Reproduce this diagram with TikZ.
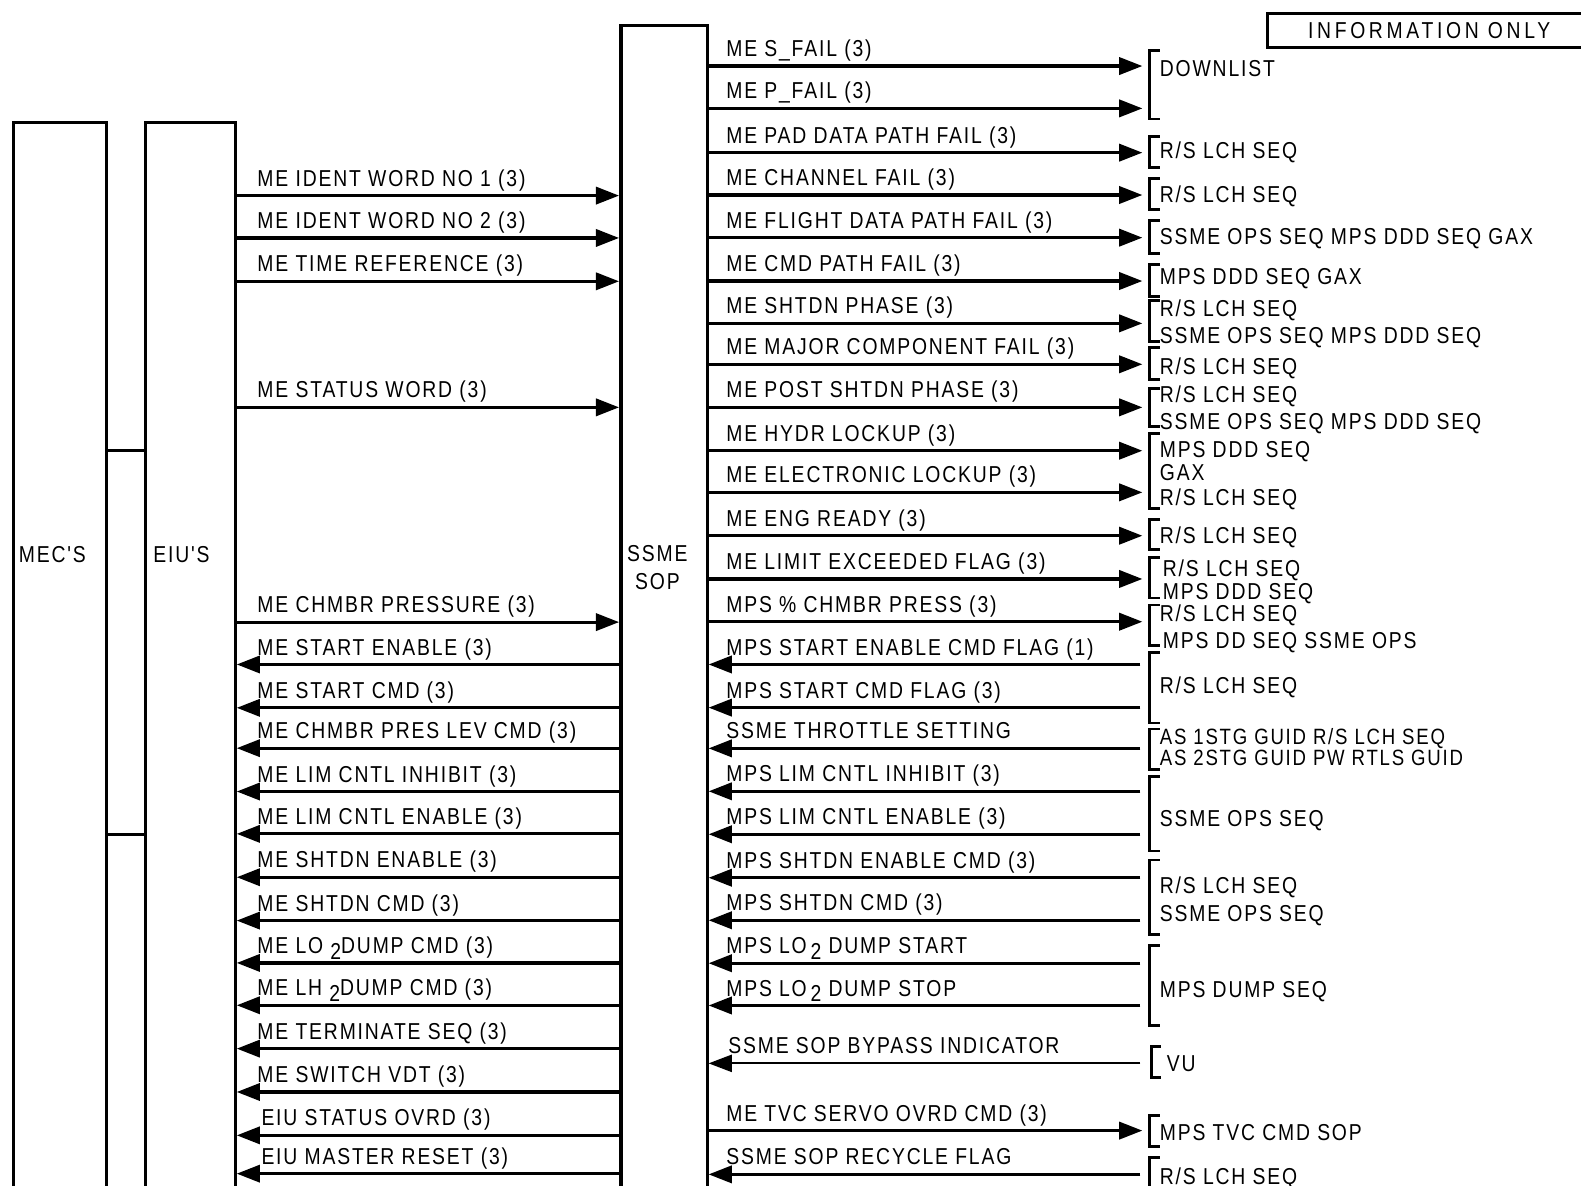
\documentclass[tikz,border=0pt]{standalone}
\usepackage{fontspec}
\newfontfamily\diafont{Liberation Sans}[FakeStretch=0.84, LetterSpace=8]
\usetikzlibrary{arrows.meta}

\begin{document}
\begin{tikzpicture}[x=0.02cm, y=-0.02cm,
    font=\diafont\fontsize{13}{15.5}\selectfont,
    box/.style={draw, line width=1.6pt, anchor=north west, inner sep=0pt},
    sig/.style={line width=1.8pt, -{Triangle[length=0.46cm, width=0.34cm]}},
    lbl/.style={anchor=south west, inner xsep=0pt, inner ysep=0pt, text depth=0.18cm},
    dst/.style={anchor=west, inner sep=0pt, text depth=0pt},
    brk/.style={line width=1.6pt}]
    \path[use as bounding box] (0,0) rectangle (1568,1176);
    \clip (0,0) rectangle (1568,1176);

    % Units
    \node[box, minimum width=1.84cm, minimum height=22cm] (mec) at (12,120) {};
    \node[box, minimum width=1.78cm, minimum height=22cm] (eiu) at (143,120) {};
    \node[box, minimum width=1.72cm, minimum height=23.9cm] (sop) at (614,24) {};
    \draw[line width=0.6pt] ([xshift=0.07cm]sop.north west) -- ([xshift=0.07cm]sop.south west);
    \node (meclbl) at (52,550) {MEC'S};
    \node (eiulbl) at (180,550) {EIU'S};
    \node[align=center] (soplbl) at (652,563) {SSME\\SOP};

    % Info box
    \node[box, minimum width=6.4cm, minimum height=0.68cm] (info) at (1256,12)
        {\addfontfeature{LetterSpace=16}INFORMATION ONLY};

    % MEC to EIU links
    \coordinate (bus1) at (0,447);
    \coordinate (bus2) at (0,828);
    \draw[brk] (mec.east |- bus1) -- (eiu.west |- bus1);
    \draw[brk] (mec.east |- bus2) -- (eiu.west |- bus2);

    % EIU to SOP
    \node[lbl] (l1) at (255,194) {ME IDENT WORD NO 1 (3)};
    \node[lbl] (l2) at (255,236) {ME IDENT WORD NO 2 (3)};
    \node[lbl] (l3) at (255,279) {ME TIME REFERENCE (3)};
    \node[lbl] (l4) at (255,404) {ME STATUS WORD (3)};
    \node[lbl] (l5) at (255,617) {ME CHMBR PRESSURE (3)};
    \draw[sig] (eiu.east |- l1.south) -- (sop.west |- l1.south);
    \draw[sig] (eiu.east |- l2.south) -- (sop.west |- l2.south);
    \draw[sig] (eiu.east |- l3.south) -- (sop.west |- l3.south);
    \draw[sig] (eiu.east |- l4.south) -- (sop.west |- l4.south);
    \draw[sig] (eiu.east |- l5.south) -- (sop.west |- l5.south);

    % SOP to EIU
    \node[lbl] (l6) at (255,659) {ME START ENABLE (3)};
    \node[lbl] (l7) at (255,702) {ME START CMD (3)};
    \node[lbl] (l8) at (255,742) {ME CHMBR PRES LEV CMD (3)};
    \node[lbl] (l9) at (255,785) {ME LIM CNTL INHIBIT (3)};
    \node[lbl] (l10) at (255,827) {ME LIM CNTL ENABLE (3)};
    \node[lbl] (l11) at (255,870) {ME SHTDN ENABLE (3)};
    \node[lbl] (l12) at (255,913) {ME SHTDN CMD (3)};
    \node[lbl] (l13) at (255,955) {ME LO \raisebox{-0.25em}{2}DUMP CMD (3)};
    \node[lbl] (l14) at (255,997) {ME LH \raisebox{-0.25em}{2}DUMP CMD (3)};
    \node[lbl] (l15) at (255,1040) {ME TERMINATE SEQ (3)};
    \node[lbl] (l16) at (255,1083) {ME SWITCH VDT (3)};
    \node[lbl] (l17) at (259,1126) {EIU STATUS OVRD (3)};
    \node[lbl] (l18) at (259,1164) {EIU MASTER RESET (3)};
    \draw[sig] (sop.west |- l6.south) -- (eiu.east |- l6.south);
    \draw[sig] (sop.west |- l7.south) -- (eiu.east |- l7.south);
    \draw[sig] (sop.west |- l8.south) -- (eiu.east |- l8.south);
    \draw[sig] (sop.west |- l9.south) -- (eiu.east |- l9.south);
    \draw[sig] (sop.west |- l10.south) -- (eiu.east |- l10.south);
    \draw[sig] (sop.west |- l11.south) -- (eiu.east |- l11.south);
    \draw[sig] (sop.west |- l12.south) -- (eiu.east |- l12.south);
    \draw[sig] (sop.west |- l13.south) -- (eiu.east |- l13.south);
    \draw[sig] (sop.west |- l14.south) -- (eiu.east |- l14.south);
    \draw[sig] (sop.west |- l15.south) -- (eiu.east |- l15.south);
    \draw[sig] (sop.west |- l16.south) -- (eiu.east |- l16.south);
    \draw[sig] (sop.west |- l17.south) -- (eiu.east |- l17.south);
    \draw[sig] (sop.west |- l18.south) -- (eiu.east |- l18.south);

    % SOP outputs
    \coordinate (rt) at (1133,0);
    \coordinate (rs) at (1131,0);
    \node[lbl] (r1) at (720,65.5) {ME S\_FAIL (3)};
    \node[lbl] (r2) at (720,107.5) {ME P\_FAIL (3)};
    \node[lbl] (r3) at (720,151.4) {ME PAD DATA PATH FAIL (3)};
    \node[lbl] (r4) at (720,193.4) {ME CHANNEL FAIL (3)};
    \node[lbl] (r5) at (720,235.7) {ME FLIGHT DATA PATH FAIL (3)};
    \node[lbl] (r6) at (720,278.7) {ME CMD PATH FAIL (3)};
    \node[lbl] (r7) at (720,320.7) {ME SHTDN PHASE (3)};
    \node[lbl] (r8) at (720,361.3) {ME MAJOR COMPONENT FAIL (3)};
    \node[lbl] (r9) at (720,404) {ME POST SHTDN PHASE (3)};
    \node[lbl] (r10) at (720,447) {ME HYDR LOCKUP (3)};
    \node[lbl] (r11) at (720,488.3) {ME ELECTRONIC LOCKUP (3)};
    \node[lbl] (r12) at (720,531.3) {ME ENG READY (3)};
    \node[lbl] (r13) at (720,574.2) {ME LIMIT EXCEEDED FLAG (3)};
    \node[lbl] (r14) at (720,616.6) {MPS \% CHMBR PRESS (3)};
    \node[lbl] (r25) at (720,1121.3) {ME TVC SERVO OVRD CMD (3)};
    \draw[sig] (sop.east |- r1.south) -- (rt |- r1.south);
    \draw[sig] (sop.east |- r2.south) -- (rt |- r2.south);
    \draw[sig] (sop.east |- r3.south) -- (rt |- r3.south);
    \draw[sig] (sop.east |- r4.south) -- (rt |- r4.south);
    \draw[sig] (sop.east |- r5.south) -- (rt |- r5.south);
    \draw[sig] (sop.east |- r6.south) -- (rt |- r6.south);
    \draw[sig] (sop.east |- r7.south) -- (rt |- r7.south);
    \draw[sig] (sop.east |- r8.south) -- (rt |- r8.south);
    \draw[sig] (sop.east |- r9.south) -- (rt |- r9.south);
    \draw[sig] (sop.east |- r10.south) -- (rt |- r10.south);
    \draw[sig] (sop.east |- r11.south) -- (rt |- r11.south);
    \draw[sig] (sop.east |- r12.south) -- (rt |- r12.south);
    \draw[sig] (sop.east |- r13.south) -- (rt |- r13.south);
    \draw[sig] (sop.east |- r14.south) -- (rt |- r14.south);
    \draw[sig] (sop.east |- r25.south) -- (rt |- r25.south);

    % SOP inputs
    \node[lbl] (r15) at (720,659) {MPS START ENABLE CMD FLAG (1)};
    \node[lbl] (r16) at (720,701.8) {MPS START CMD FLAG (3)};
    \node[lbl] (r17) at (720,742.2) {SSME THROTTLE SETTING};
    \node[lbl] (r18) at (720,784.8) {MPS LIM CNTL INHIBIT (3)};
    \node[lbl] (r19) at (720,827.4) {MPS LIM CNTL ENABLE (3)};
    \node[lbl] (r20) at (720,870.5) {MPS SHTDN ENABLE CMD (3)};
    \node[lbl] (r21) at (720,912.7) {MPS SHTDN CMD (3)};
    \node[lbl] (r22) at (720,955.3) {MPS LO\,\raisebox{-0.25em}{2} DUMP START};
    \node[lbl] (r23) at (720,997.2) {MPS LO\,\raisebox{-0.25em}{2} DUMP STOP};
    \node[lbl] (r24) at (722,1054.6) {SSME SOP BYPASS INDICATOR};
    \node[lbl] (r26) at (720,1164.7) {SSME SOP RECYCLE FLAG};
    \draw[sig] (rs |- r15.south) -- (sop.east |- r15.south);
    \draw[sig] (rs |- r16.south) -- (sop.east |- r16.south);
    \draw[sig] (rs |- r17.south) -- (sop.east |- r17.south);
    \draw[sig] (rs |- r18.south) -- (sop.east |- r18.south);
    \draw[sig] (rs |- r19.south) -- (sop.east |- r19.south);
    \draw[sig] (rs |- r20.south) -- (sop.east |- r20.south);
    \draw[sig] (rs |- r21.south) -- (sop.east |- r21.south);
    \draw[sig] (rs |- r22.south) -- (sop.east |- r22.south);
    \draw[sig] (rs |- r23.south) -- (sop.east |- r23.south);
    \draw[sig, line width=1.1pt] (rs |- r24.south) -- (sop.east |- r24.south);
    \draw[sig] (rs |- r26.south) -- (sop.east |- r26.south);

    % Destinations
    \draw[brk] (1150,50) -- (1140,50) -- (1140,118) -- (1150,118);
    \node[dst] (d1) at (1150,68) {DOWNLIST};
    \draw[brk] (1150,135) -- (1140,135) -- (1140,166) -- (1150,166);
    \node[dst] (d2) at (1150,149) {R/S LCH SEQ};
    \draw[brk] (1150,177) -- (1140,177) -- (1140,208) -- (1150,208);
    \node[dst] (d3) at (1150,193) {R/S LCH SEQ};
    \draw[brk] (1150,219) -- (1140,219) -- (1140,251) -- (1150,251);
    \node[dst] (d4) at (1150,235) {SSME OPS SEQ MPS DDD SEQ GAX};
    \draw[brk] (1150,262) -- (1140,262) -- (1140,294) -- (1150,294);
    \node[dst] (d5) at (1150,274) {MPS DDD SEQ GAX};
    \draw[brk] (1150,298) -- (1140,298) -- (1140,339) -- (1150,339);
    \node[dst] (d6a) at (1150,306) {R/S LCH SEQ};
    \node[dst] (d6b) at (1150,333) {SSME OPS SEQ MPS DDD SEQ};
    \draw[brk] (1150,345) -- (1140,345) -- (1140,376) -- (1150,376);
    \node[dst] (d7) at (1150,363) {R/S LCH SEQ};
    \draw[brk] (1150,385) -- (1140,385) -- (1140,423) -- (1150,423);
    \node[dst] (d8a) at (1150,391) {R/S LCH SEQ};
    \node[dst] (d8b) at (1150,418) {SSME OPS SEQ MPS DDD SEQ};
    \draw[brk] (1150,430) -- (1140,430) -- (1140,504) -- (1150,504);
    \node[dst] (d9a) at (1150,446) {MPS DDD SEQ};
    \node[dst] (d9b) at (1150,469) {GAX};
    \node[dst] (d9c) at (1150,493) {R/S LCH SEQ};
    \draw[brk] (1150,515) -- (1140,515) -- (1140,545) -- (1150,545);
    \node[dst] (d10) at (1150,531) {R/S LCH SEQ};
    \draw[brk] (1150,553) -- (1140,553) -- (1140,593) -- (1150,593);
    \node[dst] (d11a) at (1153,563) {R/S LCH SEQ};
    \node[dst] (d11b) at (1153,587) {MPS DDD SEQ};
    \draw[brk] (1150,600) -- (1140,600) -- (1140,640) -- (1150,640);
    \node[dst] (d12a) at (1150,608) {R/S LCH SEQ};
    \node[dst] (d12b) at (1153,635) {MPS DD SEQ SSME OPS};
    \draw[brk] (1150,647) -- (1140,647) -- (1140,717) -- (1150,717);
    \node[dst] (d13) at (1150,680) {R/S LCH SEQ};
    \draw[brk] (1150,723) -- (1140,723) -- (1140,763) -- (1150,763);
    \node[dst, font=\diafont\fontsize{12.5}{14}\selectfont] (d14a) at (1150,730.5) {AS 1STG GUID R/S LCH SEQ};
    \node[dst, font=\diafont\fontsize{12.5}{14}\selectfont] (d14b) at (1150,752) {AS 2STG GUID PW RTLS GUID};
    \draw[brk] (1150,770) -- (1140,770) -- (1140,844) -- (1150,844);
    \node[dst] (d15) at (1150,812) {SSME OPS SEQ};
    \draw[brk] (1150,853) -- (1140,853) -- (1140,927) -- (1150,927);
    \node[dst] (d16a) at (1150,878) {R/S LCH SEQ};
    \node[dst] (d16b) at (1150,906) {SSME OPS SEQ};
    \draw[brk] (1150,938) -- (1140,938) -- (1140,1017) -- (1150,1017);
    \node[dst] (d17) at (1150,981) {MPS DUMP SEQ};
    \draw[brk] (1151,1038) -- (1142,1038) -- (1142,1069) -- (1151,1069);
    \node[dst] (d18) at (1157,1055) {VU};
    \draw[brk] (1150,1106) -- (1140,1106) -- (1140,1137) -- (1150,1137);
    \node[dst] (d19) at (1150,1123) {MPS TVC CMD SOP};
    \draw[brk] (1150,1148) -- (1140,1148) -- (1140,1200);
    \node[dst] (d20) at (1150,1166) {R/S LCH SEQ};

\end{tikzpicture}
\end{document}
